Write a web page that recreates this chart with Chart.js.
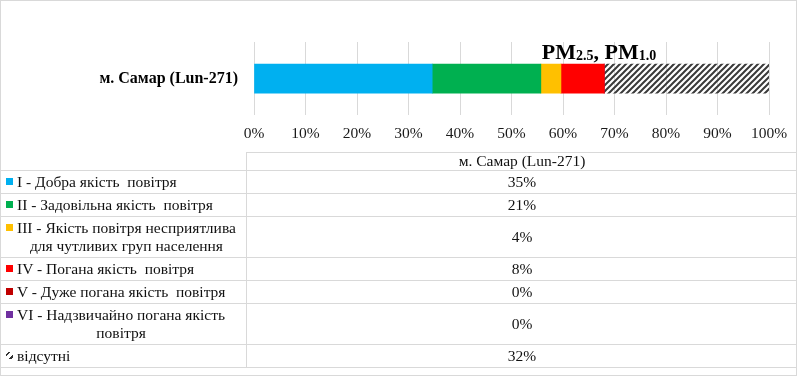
<!DOCTYPE html>
<html lang="uk">
<head>
  <meta charset="UTF-8" />
  <title>PM2.5, PM1.0 — м. Самар (Lun-271)</title>
  <script src="https://cdn.jsdelivr.net/npm/chart.js"></script>
  <style>
    body { margin: 0; background: #fff; font-family: 'Liberation Serif', 'Times New Roman', serif; }
    #page { position: relative; width: 797px; height: 376px; overflow: hidden; }
    #frame { position: absolute; left: 0; top: 0; width: 797px; height: 376px; box-sizing: border-box;
             border: 1px solid #d9d9d9; pointer-events: none; z-index: 5; }
    .chart-wrap { position: absolute; left: 0; top: 0; width: 797px; height: 160px; }
    #dataTable { position: absolute; left: 0; top: 0; width: 797px; height: 376px; }
    .row { position: absolute; left: 0; width: 797px; box-sizing: border-box; border-top: 1px solid #d9d9d9; }
    .cell { position: absolute; top: 0; bottom: 0; display: flex; align-items: center;
            font-size: 15.5px; color: #111; }
    .cell.key { left: 0; width: 246px; padding-left: 6px; box-sizing: border-box; }
    .cell.val { left: 246px; right: 0; justify-content: center; border-left: 1px solid #d9d9d9; }
    .keywrap { display: flex; align-items: flex-start; }
    .marker { width: 7px; height: 7px; margin-top: 5px; margin-right: 4px; flex: none; }
    .txt { white-space: pre; text-align: center; line-height: 18px; }
  </style>
</head>
<body>
<div id="page">
  <div class="chart-wrap"><canvas id="pmChart" width="797" height="160"></canvas></div>
  <div id="dataTable"></div>
  <div id="frame"></div>
</div>

<script>
const categories = ['м. Самар (Lun-271)'];
const seriesLabels = [
  'I - Добра якість  повітря',
  'II - Задовільна якість  повітря',
  'III - Якість повітря несприятлива\nдля чутливих груп населення',
  'IV - Погана якість  повітря',
  'V - Дуже погана якість  повітря',
  'VI - Надзвичайно погана якість\nповітря',
  'відсутні'
];
const seriesValues = [34.6, 21.1, 3.9, 8.4, 0, 0, 32.0];
const seriesColors = ['#00b0f0', '#00b050', '#ffc000', '#ff0000', '#c00000', '#7030a0', 'hatch'];
const xTicks = [0, 10, 20, 30, 40, 50, 60, 70, 80, 90, 100];

// штрихування для "відсутні"
function makeHatch(size, lw) {
  const c = document.createElement('canvas');
  c.width = size; c.height = size;
  const g = c.getContext('2d');
  g.strokeStyle = '#3a3a3a';
  g.lineWidth = lw;
  g.beginPath();
  g.moveTo(-1, size + 1); g.lineTo(size + 1, -1);
  g.moveTo(-1, 1); g.lineTo(1, -1);
  g.moveTo(size - 1, size + 1); g.lineTo(size + 1, size - 1);
  g.stroke();
  return c;
}
const hatchTile = makeHatch(6, 2);
const ctx = document.getElementById('pmChart').getContext('2d');
const hatch = ctx.createPattern(hatchTile, 'repeat');

const serif = "'Liberation Serif', 'Times New Roman', serif";

// заголовок з підрядковими індексами
const titlePlugin = {
  id: 'pmTitle',
  afterDatasetsDraw(chart) {
    const c = chart.ctx;
    const parts = [
      { t: 'PM', f: 'bold 22px ' + serif, dy: 0 },
      { t: '2.5', f: 'bold 14px ' + serif, dy: 1.5 },
      { t: ', PM', f: 'bold 22px ' + serif, dy: 0 },
      { t: '1.0', f: 'bold 14px ' + serif, dy: 1.5 }
    ];
    c.save();
    let total = 0;
    parts.forEach(p => { c.font = p.f; p.w = c.measureText(p.t).width; total += p.w; });
    let x = 599 - total / 2;
    const base = 58.5;
    c.fillStyle = '#000';
    c.textBaseline = 'alphabetic';
    parts.forEach(p => { c.font = p.f; c.fillText(p.t, x, base + p.dy); x += p.w; });
    c.restore();
  }
};

new Chart(ctx, {
  type: 'bar',
  data: {
    labels: categories,
    datasets: seriesLabels.map((label, i) => ({
      label,
      data: [seriesValues[i]],
      backgroundColor: seriesColors[i] === 'hatch' ? hatch : seriesColors[i],
      borderWidth: 0,
      barThickness: 29
    }))
  },
  options: {
    indexAxis: 'y',
    responsive: false,
    animation: false,
    layout: { padding: { top: 42, right: 28, bottom: 8, left: 0 } },
    plugins: { legend: { display: false }, tooltip: { enabled: false }, title: { display: false } },
    scales: {
      x: {
        stacked: true,
        min: 0,
        max: 100,
        afterBuildTicks: s => { s.ticks = xTicks.map(v => ({ value: v })); },
        grid: { color: '#d9d9d9', drawTicks: false },
        border: { display: false },
        ticks: { padding: 9, color: '#1a1a1a', font: { family: serif, size: 15.5 }, callback: v => v + '%' }
      },
      y: {
        stacked: true,
        afterFit: s => { s.width = 254; },
        grid: { display: false, drawTicks: false },
        border: { display: false },
        ticks: { padding: 16, color: '#000', font: { family: serif, size: 16, weight: 'bold' } }
      }
    }
  },
  plugins: [titlePlugin]
});

// таблиця даних під діаграмою
const rowTops = [152, 170, 193, 216, 257, 280, 303, 344, 367];
const table = document.getElementById('dataTable');

const head = document.createElement('div');
head.className = 'row';
head.style.top = rowTops[0] + 'px';
head.style.height = (rowTops[1] - rowTops[0]) + 'px';
head.style.left = '246px';
head.style.width = '551px';
head.innerHTML = '<div class="cell val" style="left:0;border-left:1px solid #d9d9d9;margin-top:-1px">' + categories[0] + '</div>';
table.appendChild(head);

seriesLabels.forEach((label, i) => {
  const r = document.createElement('div');
  r.className = 'row';
  r.style.top = rowTops[i + 1] + 'px';
  r.style.height = (rowTops[i + 2] - rowTops[i + 1]) + 'px';

  const key = document.createElement('div');
  key.className = 'cell key';
  const wrap = document.createElement('div');
  wrap.className = 'keywrap';
  const m = document.createElement('span');
  m.className = 'marker';
  if (seriesColors[i] === 'hatch') {
    m.style.background = 'repeating-linear-gradient(135deg, #fff 0 1.5px, #333 1.5px 3.5px, #fff 3.5px 5px)';
  } else {
    m.style.background = seriesColors[i];
  }
  const t = document.createElement('span');
  t.className = 'txt';
  t.textContent = label;
  wrap.appendChild(m);
  wrap.appendChild(t);
  key.appendChild(wrap);

  const val = document.createElement('div');
  val.className = 'cell val';
  val.textContent = Math.round(seriesValues[i]) + '%';

  r.appendChild(key);
  r.appendChild(val);
  table.appendChild(r);
});

const last = document.createElement('div');
last.className = 'row';
last.style.top = rowTops[rowTops.length - 1] + 'px';
last.style.height = '9px';
table.appendChild(last);
</script>
</body>
</html>
